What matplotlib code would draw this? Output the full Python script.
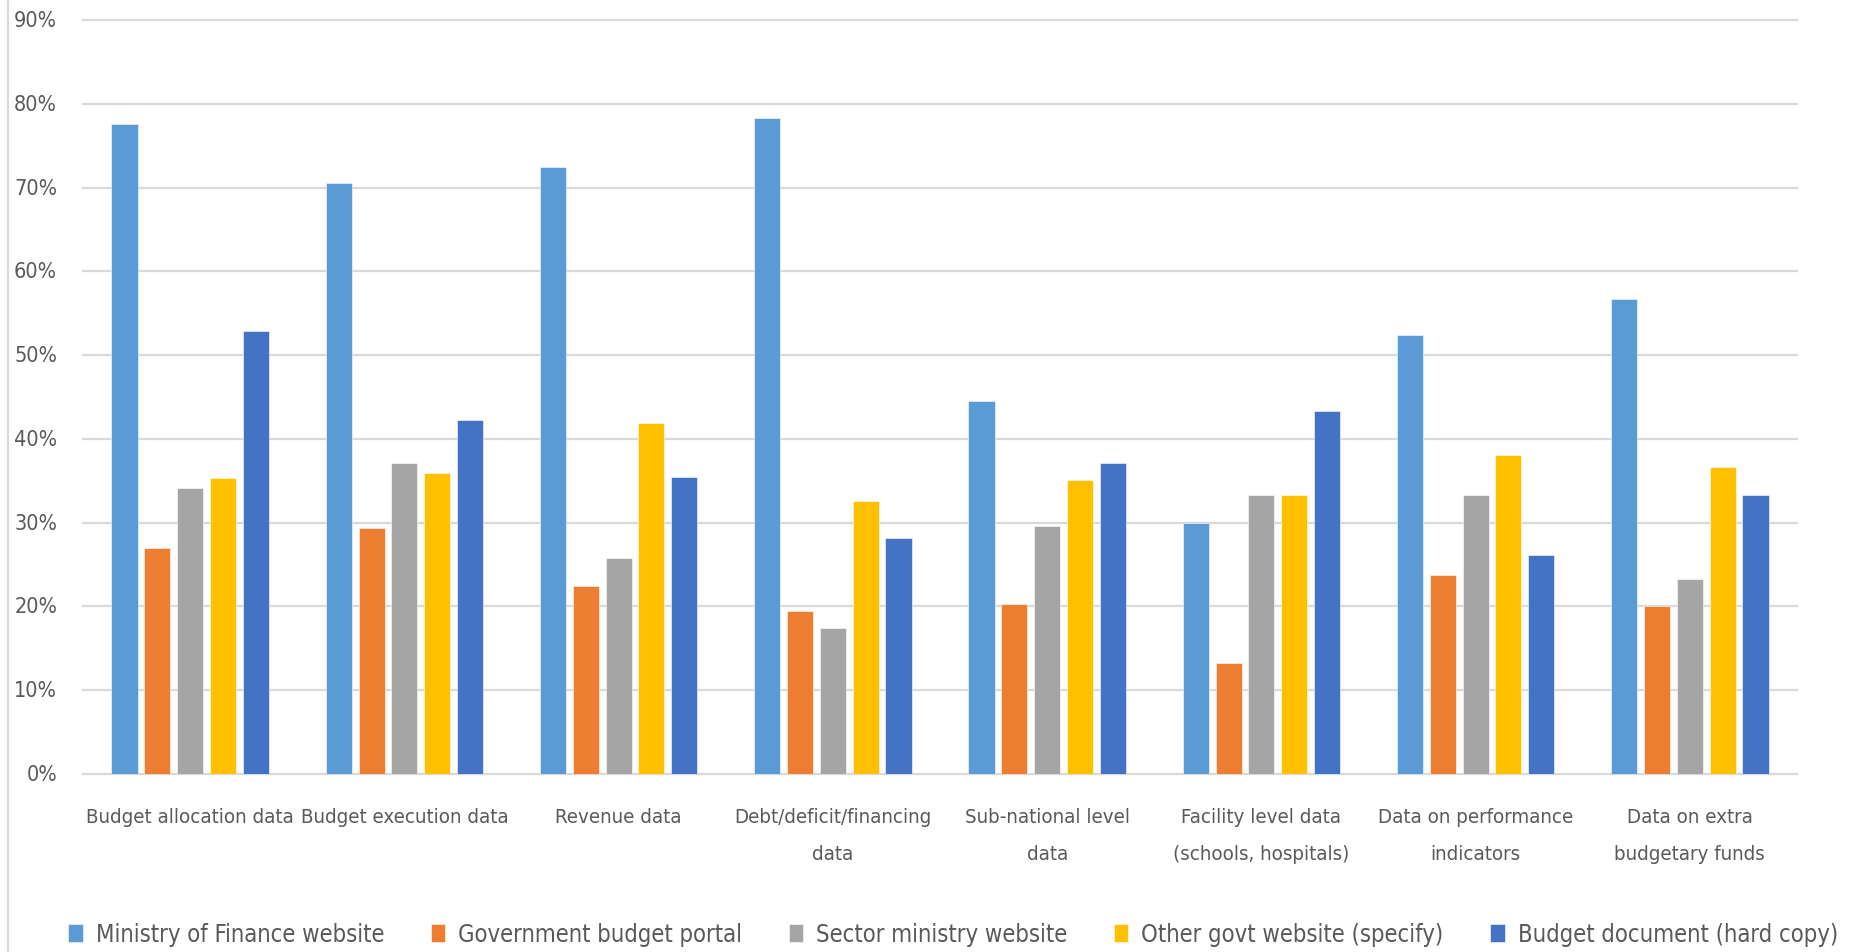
import matplotlib
matplotlib.use("Agg")
import matplotlib.pyplot as plt
import numpy as np
from matplotlib import font_manager as fm
from matplotlib.font_manager import FontProperties
from matplotlib.textpath import TextToPath
from matplotlib.lines import Line2D
import matplotlib.transforms as mtransforms

# ---------------- data ----------------
categories = [
    "Budget allocation data",
    "Budget execution data",
    "Revenue data",
    "Debt/deficit/financing\ndata",
    "Sub-national level\ndata",
    "Facility level data\n(schools, hospitals)",
    "Data on performance\nindicators",
    "Data on extra\nbudgetary funds",
]
series_names = [
    "Ministry of Finance website",
    "Government budget portal",
    "Sector ministry website",
    "Other govt website (specify)",
    "Budget document (hard copy)",
]
mof_website = [77.6, 70.5, 72.5, 78.3, 44.5, 30.0, 52.4, 56.7]
budget_portal = [27.0, 29.4, 22.5, 19.5, 20.3, 13.3, 23.8, 20.0]
sector_ministry = [34.1, 37.1, 25.8, 17.4, 29.6, 33.3, 33.3, 23.3]
other_govt = [35.3, 35.9, 41.9, 32.6, 35.1, 33.3, 38.1, 36.7]
budget_document = [52.9, 42.3, 35.4, 28.2, 37.1, 43.3, 26.1, 33.3]
y_ticks = [0, 10, 20, 30, 40, 50, 60, 70, 80, 90]
y_tick_labels = ["0%", "10%", "20%", "30%", "40%", "50%", "60%", "70%", "80%", "90%"]

colors = ["#5B9BD5", "#ED7D31", "#A5A5A5", "#FFC000", "#4472C4"]
TEXT = "#595959"
GRID = "#D9D9D9"

# ---------------- font choice ----------------
def pick_font():
    prefs = ["Liberation Sans Narrow", "DejaVu Sans Condensed"]
    ents = fm.fontManager.ttflist
    def regular(f):
        try:
            w = int(f.weight)
        except Exception:
            w = 400 if str(f.weight) in ("normal", "regular", "book") else 700
        return f.style == "normal" and 350 <= w <= 450
    for p in prefs:
        for f in ents:
            if f.name == p and regular(f):
                return FontProperties(fname=f.fname)
    for f in ents:
        if f.stretch in ("condensed", "semi-condensed") and regular(f) and "CJK" not in f.name:
            return FontProperties(fname=f.fname)
    return FontProperties(family="Lato")

BASE = pick_font()
_ttp = TextToPath()

def fit_size(text, target_px):
    p = BASE.copy()
    p.set_size(100)
    w, h, d = _ttp.get_text_width_height_descent(text, p, ismath=False)
    return 100 * (target_px * 72 / 100) / w

def fp(size):
    p = BASE.copy()
    p.set_size(size)
    return p

tick_size = fit_size("90%", 43)
cat_size = fit_size("Budget allocation data", 208)
leg_size = fit_size("Ministry of Finance website", 290)

# ---------------- figure ----------------
W, H = 1856, 953
fig = plt.figure(figsize=(W / 100, H / 100), dpi=100)
fig.patch.set_facecolor("white")

left, right, top, bottom = 83, 1797, 21, 775
ax = fig.add_axes([left / W, 1 - bottom / H, (right - left) / W, (bottom - top) / H])

x = np.arange(len(categories))
slot = 0.153
bw = 0.122
all_series = [mof_website, budget_portal, sector_ministry, other_govt, budget_document]
handles = []
for i, (vals, c, name) in enumerate(zip(all_series, colors, series_names)):
    b = ax.bar(x + (i - 2) * slot, np.array(vals) / 100.0, width=bw, color=c,
               zorder=3, label=name, edgecolor="white", linewidth=0.4)
    handles.append(b)

ax.set_xlim(-0.5, len(categories) - 0.5)
ax.set_ylim(0, 0.9)
ax.set_yticks(np.array(y_ticks) / 100.0)
ax.grid(axis="y", color=GRID, linewidth=1.6, zorder=0)
ax.set_axisbelow(True)
for gl in ax.get_ygridlines():
    gl.set_clip_on(False)
for s in ax.spines.values():
    s.set_visible(False)

# y tick labels drawn as text, right-aligned 26 px left of the plot area
ax.tick_params(axis="y", length=0, labelleft=False)
ytrans = ax.get_yaxis_transform() + mtransforms.ScaledTranslation(-26 / 100, 0, fig.dpi_scale_trans)
for v, lab in zip(y_ticks, y_tick_labels):
    ax.text(0, v / 100.0, lab, transform=ytrans, ha="right", va="center",
            fontproperties=fp(tick_size), color=TEXT, clip_on=False)

ax.tick_params(axis="x", length=0, pad=24, colors=TEXT)
ax.set_xticks(x)
ax.set_xticklabels(categories, fontproperties=fp(cat_size), linespacing=2.15,
                   ha="center", va="top", color=TEXT)

# left chart-area border
fig.add_artist(Line2D([8 / W, 8 / W], [0, 1], transform=fig.transFigure,
                      color=GRID, linewidth=1.5))

# legend
fpx = leg_size * 100 / 72
leg = fig.legend(handles=handles, labels=series_names, loc="center",
                 bbox_to_anchor=(953 / W, 1 - 935 / H), ncol=5, frameon=False,
                 prop=fp(leg_size), handlelength=14.5 / fpx, handleheight=19 / fpx,
                 handletextpad=13 / fpx, columnspacing=46.5 / fpx, borderpad=0,
                 borderaxespad=0)
for t in leg.get_texts():
    t.set_color(TEXT)

fig.savefig("out.png", dpi=100, facecolor="white")
